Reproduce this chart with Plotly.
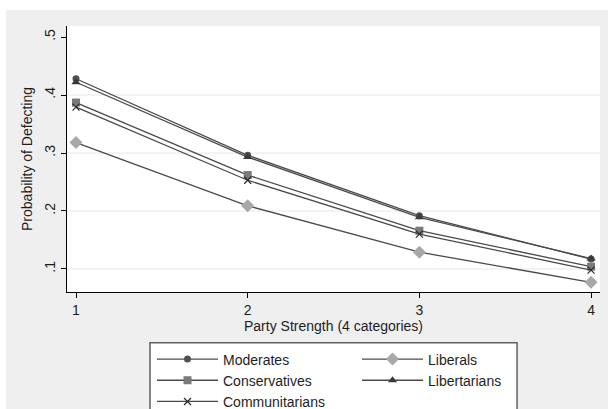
import plotly.graph_objects as go

# Predicted probability of defecting by party strength, per ideological group
strength = [1, 2, 3, 4]
moderates = [0.428, 0.296, 0.192, 0.117]
liberals = [0.318, 0.209, 0.129, 0.077]
conservatives = [0.387, 0.262, 0.166, 0.104]
libertarians = [0.422, 0.293, 0.189, 0.118]
communitarians = [0.379, 0.253, 0.160, 0.098]

y_ticks = [0.1, 0.2, 0.3, 0.4, 0.5]
y_labels = [".1", ".2", ".3", ".4", ".5"]
x_ticks = [1, 2, 3, 4]

FONT = "Liberation Sans, Arial, sans-serif"
TEXT = "#1e1e1e"
LINE = "#4a4a4a"

series = [
    ("Moderates", moderates, dict(symbol="circle", size=7, color="#505050")),
    ("Liberals", liberals, dict(symbol="diamond", size=10, color="#a8a8a8")),
    ("Conservatives", conservatives, dict(symbol="square", size=8, color="#7a7a7a")),
    ("Libertarians", libertarians, dict(symbol="triangle-up", size=8, color="#3a3a3a")),
    ("Communitarians", communitarians,
     dict(symbol="x-thin", size=7, color="#2a2a2a", line=dict(width=1.2, color="#2a2a2a"))),
]

fig = go.Figure()
for name, vals, marker in series:
    fig.add_trace(go.Scatter(
        x=strength, y=vals, name=name, mode="lines+markers",
        line=dict(color=LINE, width=1.3), marker=marker,
    ))

# light horizontal grid, omitted at the top tick
shapes = [
    dict(type="line", xref="paper", yref="y", x0=0, x1=1, y0=v, y1=v,
         line=dict(color="#e8e8e8", width=1), layer="below")
    for v in y_ticks[:-1]
]
# white page strips around the grey graph region
shapes += [
    dict(type="rect", xref="paper", yref="paper", x0=-0.3, x1=1.3, y0=1.0602, y1=1.3,
         fillcolor="white", line=dict(width=0), layer="below"),
    dict(type="rect", xref="paper", yref="paper", x0=-0.3, x1=-0.11445, y0=-0.6, y1=1.3,
         fillcolor="white", line=dict(width=0), layer="below"),
    # legend frame
    dict(type="rect", xref="paper", yref="paper", x0=0.1557, x1=0.8443, y0=-0.6, y1=-0.1906,
         fillcolor="white", line=dict(width=1.5, color="#606060"), layer="below"),
]

fig.update_layout(
    width=608, height=409,
    margin=dict(l=67, r=8, t=26, b=117, autoexpand=False),
    paper_bgcolor="#efefef", plot_bgcolor="white",
    font=dict(family=FONT, size=14, color=TEXT),
    shapes=shapes,
    showlegend=True,
    legend=dict(
        orientation="h", x=0.1595, y=-0.1935, xanchor="left", yanchor="top",
        bgcolor="rgba(0,0,0,0)", borderwidth=0,
        font=dict(family=FONT, size=14, color=TEXT),
        entrywidth=129, itemwidth=61, traceorder="normal",
    ),
)
fig.update_xaxes(
    range=[0.9476, 4.052], tickvals=x_ticks, ticks="outside", ticklen=5,
    tickcolor="black", showline=True, linecolor="black", linewidth=1,
    showgrid=False, zeroline=False, mirror=False,
    title=dict(text="Party Strength (4 categories)", standoff=2,
               font=dict(family=FONT, size=14, color=TEXT)),
)
fig.update_yaxes(
    range=[0.0603, 0.519], tickvals=y_ticks, ticktext=y_labels, tickangle=-90,
    ticks="outside", ticklen=5, tickcolor="black",
    showline=True, linecolor="black", linewidth=1,
    showgrid=False, zeroline=False, mirror=False,
    title=dict(text="Probability of Defecting", standoff=6,
               font=dict(family=FONT, size=14, color=TEXT)),
)

fig.write_html("out.html")
